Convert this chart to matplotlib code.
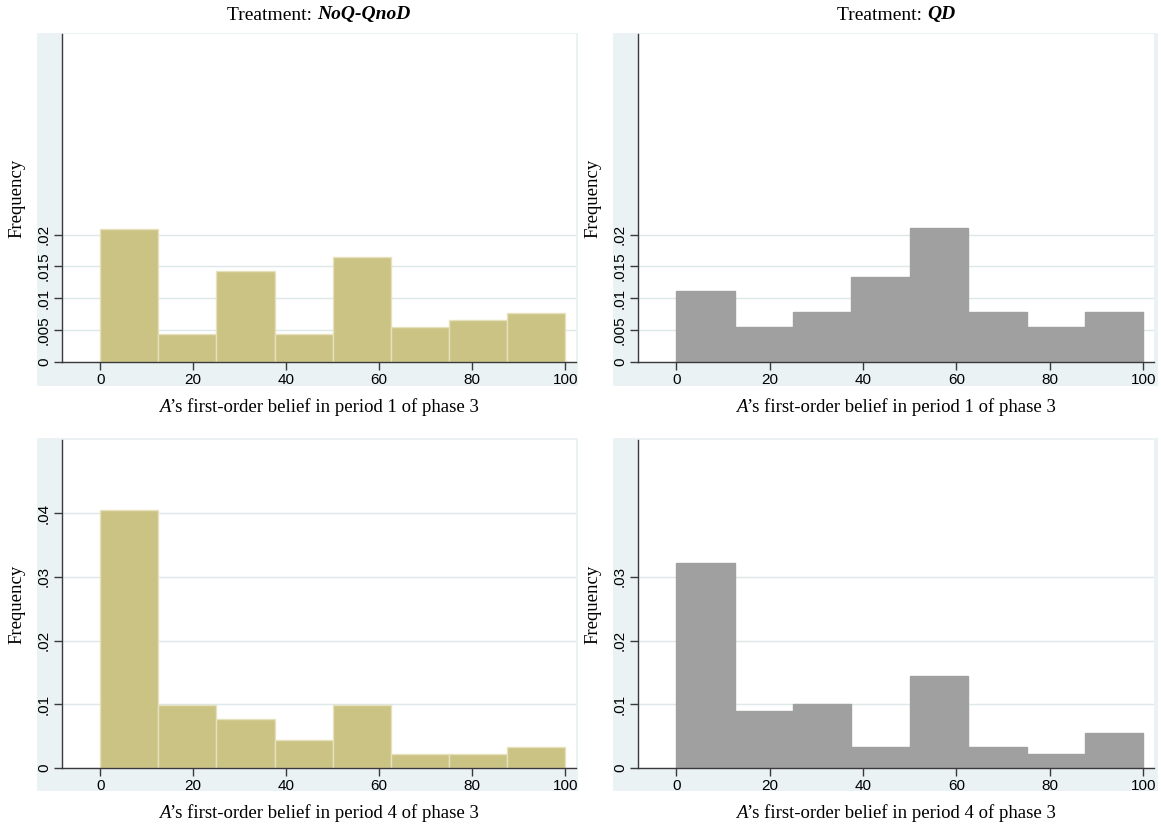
import numpy as np
import matplotlib
matplotlib.use("Agg")
import matplotlib.pyplot as plt
from matplotlib.patches import Rectangle

# histogram data: counts in 8 bins of width 12.5 over [0, 100]
bin_edges = np.linspace(0, 100, 9)
bin_mid = (bin_edges[:-1] + bin_edges[1:]) / 2

noq_p1 = [19, 4, 13, 4, 15, 5, 6, 7]      # NoQ-QnoD, period 1
qd_p1 = [10, 5, 7, 12, 19, 7, 5, 7]       # QD, period 1
noq_p4 = [37, 9, 7, 4, 9, 2, 2, 3]        # NoQ-QnoD, period 4
qd_p4 = [29, 8, 9, 3, 13, 3, 2, 5]        # QD, period 4

yt_top = [0, 0.005, 0.01, 0.015, 0.02]
yt_top_lbl = ["0", ".005", ".01", ".015", ".02"]
yt_bl = [0, 0.01, 0.02, 0.03, 0.04]
yt_bl_lbl = ["0", ".01", ".02", ".03", ".04"]
yt_br = [0, 0.01, 0.02, 0.03]
yt_br_lbl = ["0", ".01", ".02", ".03"]
xt = [0, 20, 40, 60, 80, 100]

treatments = ["NoQ-QnoD", "QD"]
periods = [1, 4]

W, H = 1161, 825
fig = plt.figure(figsize=(W / 100, H / 100), dpi=100)
fig.patch.set_facecolor("white")

serif = "Liberation Serif"
sans = "Liberation Sans"
bluebg = "#eaf2f3"
tan = "#cbc383"
grey = "#a0a0a0"


def px_axes(l, r, t, b):
    return fig.add_axes([l / W, 1 - b / H, (r - l) / W, (b - t) / H])


def bg_rect(l, r, t, b):
    fig.patches.append(Rectangle((l / W, 1 - b / H), (r - l) / W, (b - t) / H,
                                 transform=fig.transFigure, facecolor=bluebg,
                                 edgecolor="none", zorder=-10))


def two_part(x, y, a, b, fa, fb):
    # draw text a + b centred at x (pixels), each part with its own font
    r = fig.canvas.get_renderer()
    t1 = fig.text(0, 0, a, **fa)
    t2 = fig.text(0, 0, b, **fb)
    w1 = t1.get_window_extent(r).width
    w2 = t2.get_window_extent(r).width
    x0 = x - (w1 + w2) / 2
    t1.set_position((x0 / W, 1 - y / H))
    t2.set_position(((x0 + w1) / W, 1 - y / H))
    for t in (t1, t2):
        t.set_ha("left")
        t.set_va("center")


panels = [
    (noq_p1, tan, "#e6e1bd", yt_top, yt_top_lbl, 1, (37, 578, 62, 576, 33, 386, 34, 362)),
    (qd_p1, grey, grey, yt_top, yt_top_lbl, 1, (613, 1158, 638, 1154, 33, 386, 34, 362)),
    (noq_p4, tan, "#e6e1bd", yt_bl, yt_bl_lbl, 4, (37, 578, 62, 576, 438, 791, 440, 768)),
    (qd_p4, grey, grey, yt_br, yt_br_lbl, 4, (613, 1158, 638, 1154, 438, 791, 440, 768)),
]

for counts, fc, ec, yt, ytl, per, box in panels:
    bl, br, al, ar, bt, bb, at, ab = box
    bg_rect(bl, br, bt, bb)
    ax = px_axes(al, ar, at, ab)
    ax.set_facecolor("white")
    ax.hist(bin_mid, bins=bin_edges, weights=counts, density=True,
            color=fc, edgecolor=ec, linewidth=1, zorder=3)
    ax.set_xlim(-8.2, 102.3)
    ax.set_ylim(0, 0.0515)
    ax.set_yticks(yt)
    ax.set_yticklabels(ytl, rotation=90, va="center", fontfamily=sans, fontsize=11)
    ax.set_xticks(xt)
    ax.set_xticklabels([str(v) for v in xt], fontfamily=sans, fontsize=11)
    ax.grid(axis="y", color="#dde8ea", linewidth=1, zorder=0)
    ax.set_axisbelow(True)
    for s in ("top", "right"):
        ax.spines[s].set_visible(False)
    for s in ("left", "bottom"):
        ax.spines[s].set_color("#3a3a3a")
        ax.spines[s].set_linewidth(1)
        ax.spines[s].set_zorder(5)
    ax.tick_params(length=6, width=1, color="#3a3a3a", pad=2)

    fig.text((bl - 20) / W, 1 - ((at + ab) / 2) / H, "Frequency", rotation=90,
             ha="center", va="center", fontfamily=serif, fontsize=13.5)
    two_part((al + ar) / 2, ab + 45, "A", "\u2019s first-order belief in period %d of phase 3" % per,
             dict(fontfamily=serif, fontsize=13.5, style="italic"),
             dict(fontfamily=serif, fontsize=13.5))

two_part(319, 15, "Treatment: ", treatments[0],
         dict(fontfamily=serif, fontsize=14),
         dict(fontfamily=serif, fontsize=14, style="italic", weight="bold"))
two_part(896, 15, "Treatment: ", treatments[1],
         dict(fontfamily=serif, fontsize=14),
         dict(fontfamily=serif, fontsize=14, style="italic", weight="bold"))

fig.savefig("out.png", dpi=100)
